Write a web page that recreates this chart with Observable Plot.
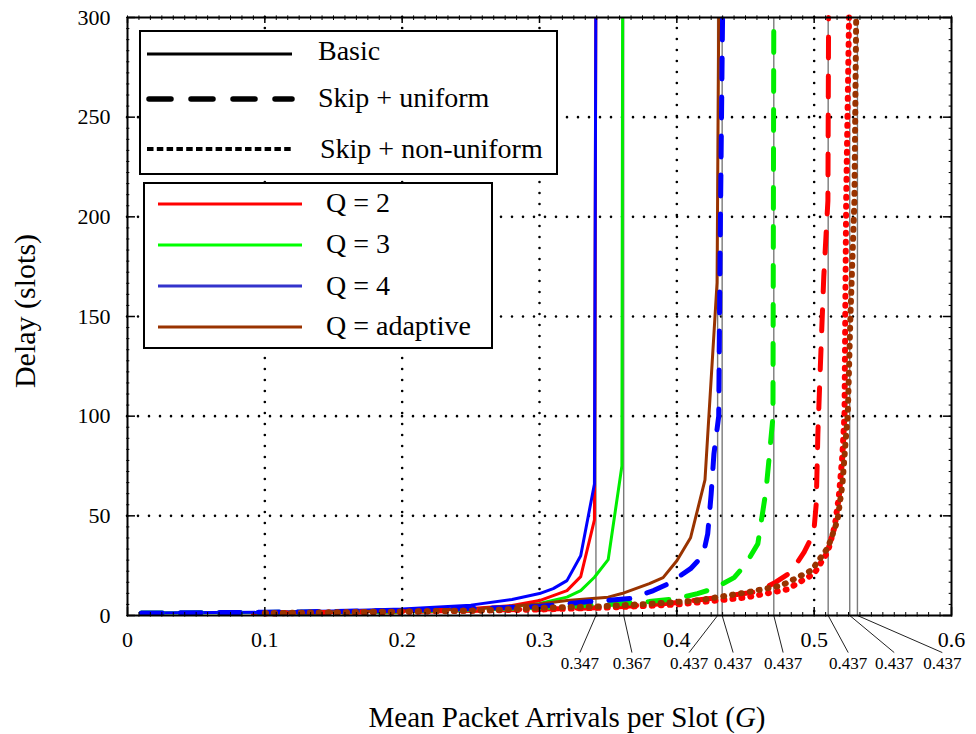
<!DOCTYPE html>
<html><head><meta charset="utf-8">
<script src="https://cdn.jsdelivr.net/npm/d3@7"></script>
<script src="https://cdn.jsdelivr.net/npm/@observablehq/plot@0.6"></script>
<style>
body{margin:0;background:#fff;}
#chart{width:976px;height:734px;}
svg{font-family:"Liberation Serif",serif;}
.lt{font-family:"Liberation Serif",serif;text-anchor:start;}
</style></head><body><div id="chart"></div>
<script>
// ---- data ----
const basicQ2G = [0.09,0.15,0.2,0.25,0.28,0.30,0.31,0.32,0.33,0.34,0.341];
const basicQ2D = [1,1.5,2.2,3.5,5,7.5,10,12.5,19.5,48,300];
const basicQ3G = [0.01,0.1,0.2,0.25,0.28,0.30,0.32,0.33,0.34,0.35,0.36,0.3605];
const basicQ3D = [1.2,1.5,2.3,3.3,4.5,6,9.2,12.5,19.2,28,75,300];
const basicQ4G = [0.01,0.1,0.15,0.2,0.25,0.28,0.30,0.31,0.32,0.33,0.34,0.341];
const basicQ4D = [1.2,1.6,2.2,3.3,5.2,8,11,13.5,17.5,30,66,300];
const basicAdG = [0.1,0.2,0.25,0.3,0.32,0.35,0.36,0.38,0.39,0.40,0.41,0.4205,0.4293,0.4305];
const basicAdD = [1.5,2.3,3.2,5.8,7.5,9.2,11,16,19,27.5,39,68,167,300];
const uniQ2G = [0.1,0.2,0.3,0.35,0.4,0.432,0.444,0.459,0.472,0.483,0.4927,0.498,0.5,0.5015,0.5027,0.5045,0.507,0.51,0.5105];
const uniQ2D = [1.2,2,3.2,4,6.5,9.2,10.5,12,16.7,21.7,31.8,39,44,56,91,125,170,208,300];
const uniQ3G = [0.01,0.1,0.2,0.3,0.35,0.38,0.40,0.415,0.427,0.4417,0.4504,0.459,0.465,0.47,0.4706];
const uniQ3D = [1.2,1.5,2.2,4,5.5,7,8.5,11,13.5,19,26,36,63,99.5,300];
const uniQ4G = [0.01,0.1,0.2,0.3,0.337,0.357,0.366,0.383,0.394,0.41,0.419,0.4225,0.425,0.427,0.4305,0.4315,0.4333];
const uniQ4D = [1.2,1.6,2.5,4.5,7,8,8.5,12.5,16,23.5,30,41,61,81,100,183,300];
const nonQ2G = [0.1,0.2,0.3,0.35,0.4,0.45,0.48,0.5,0.51,0.515,0.518,0.5205,0.5221,0.5233,0.5254];
const nonQ2D = [1,1.8,3,4,5.5,9,13,21,32,45,60,80,101,208,300];
const nonAdG = [0.1,0.2,0.2573,0.306,0.342,0.379,0.415,0.4517,0.476,0.498,0.51,0.517,0.5206,0.5233,0.5245,0.5264,0.5293,0.5306];
const nonAdD = [1.2,2,2.5,4,4.5,5.8,7.5,11.7,15,22.6,34,47.7,66,91,101,150,208,300];

const asymG = [0.3411,0.3613,0.4297,0.4330,0.4706,0.5102,0.5259,0.5315];
const asymLabels = ["0.347","0.367","0.437","0.437","0.437","0.437","0.437","0.437"];
const asymLabelG = [0.3294,0.3673,0.4089,0.4410,0.4774,0.5248,0.5583,0.5933];

const xTicks = [0,0.1,0.2,0.3,0.4,0.5,0.6];
const xTickLabels = ["0","0.1","0.2","0.3","0.4","0.5","0.6"];
const yTicks = [0,50,100,150,200,250,300];
const yTickLabels = ["0","50","100","150","200","250","300"];
const gridX = [0.1,0.2,0.3,0.4,0.5];
const gridY = [50,100,150,200,250];

const schemeNames = ["Basic","Skip + uniform","Skip + non-uniform"];
const qNames = ["Q = 2","Q = 3","Q = 4","Q = adaptive"];
const qColors = ["#ff0000","#00ee00","#0000ff","#993300"];
const qLegendColors = ["#ff0000","#00ff00","#3333cc","#993300"];

// ---- series table ----
const series = [
  {scheme:0,q:1,G:basicQ3G,D:basicQ3D},
  {scheme:0,q:0,G:basicQ2G,D:basicQ2D},
  {scheme:0,q:2,G:basicQ4G,D:basicQ4D},
  {scheme:0,q:3,G:basicAdG,D:basicAdD},
  {scheme:1,q:0,G:uniQ2G,D:uniQ2D},
  {scheme:1,q:1,G:uniQ3G,D:uniQ3D},
  {scheme:1,q:2,G:uniQ4G,D:uniQ4D},
  {scheme:2,q:0,G:nonQ2G,D:nonQ2D},
  {scheme:2,q:3,G:nonAdG,D:nonAdD}
];
const styleFor = [
  {strokeWidth:3, strokeDasharray:null, strokeLinecap:"butt"},
  {strokeWidth:5, strokeDasharray:"21,18", strokeLinecap:"round"},
  {strokeWidth:6, strokeDasharray:"1,8", strokeLinecap:"round"}
];
const lineMarks = series.map(s => {
  const rows = s.G.map((g,i)=>({G:g, D:s.D[i]}));
  const st = styleFor[s.scheme];
  return Plot.line(rows, {x:"G", y:"D", stroke:qColors[s.q], strokeWidth:st.strokeWidth,
    strokeDasharray:st.strokeDasharray, strokeLinecap:st.strokeLinecap, strokeLinejoin:"round"});
});

const minorX = d3.range(0,73).map(i=>i*0.1/12);
const minorY = d3.range(0,55).map(i=>i*50/9);
const leaders = asymG.map((g,i)=>({g, lg:asymLabelG[i]}));

const plot = Plot.plot({
  width:976, height:734,
  marginLeft:127, marginRight:25, marginTop:17, marginBottom:119,
  style:{fontFamily:"Liberation Serif", background:"white", color:"black"},
  x:{domain:[0,0.6]},
  y:{domain:[0,300]},
  marks:[
    Plot.ruleX(gridX, {stroke:"#000", strokeWidth:2.6, strokeDasharray:"0,11", strokeLinecap:"round"}),
    Plot.ruleY(gridY, {stroke:"#000", strokeWidth:2.6, strokeDasharray:"0,11", strokeLinecap:"round"}),
    Plot.ruleX(asymG, {y1:0, y2:300, stroke:"#7a7a7a", strokeWidth:1.4}),
    Plot.link(leaders, {x1:"g", y1:0, x2:"lg", y2:-18.6, stroke:"#222", strokeWidth:1}),
    Plot.text(asymLabels, {x:(d,i)=>asymLabelG[i], y:-20.8, text:d=>d, lineAnchor:"top", fontSize:17, fill:"#000"}),
    ...lineMarks,
    Plot.frame({stroke:"#000", strokeWidth:2}),
    Plot.ruleX(xTicks, {y1:0, y2:4, stroke:"#000", strokeWidth:1.5}),
    Plot.ruleX(xTicks, {y1:300, y2:297, stroke:"#000", strokeWidth:1.5}),
    Plot.ruleX(minorX, {y1:-0.8, y2:1.5, stroke:"#000", strokeWidth:1}),
    Plot.ruleX(minorX, {y1:300.8, y2:298.5, stroke:"#000", strokeWidth:1}),
    Plot.ruleY(yTicks, {x1:0, x2:0.0058, stroke:"#000", strokeWidth:1.5}),
    Plot.ruleY(yTicks, {x1:0.6, x2:0.5942, stroke:"#000", strokeWidth:1.5}),
    Plot.ruleY(minorY, {x1:-0.0006, x2:0.0017, stroke:"#000", strokeWidth:1}),
    Plot.ruleY(minorY, {x1:0.6006, x2:0.5983, stroke:"#000", strokeWidth:1}),
    Plot.axisX({ticks:xTicks, tickFormat:(d,i)=>xTickLabels[i], tickSize:0, tickPadding:16, fontSize:22, label:null}),
    Plot.axisY({ticks:yTicks, tickFormat:(d,i)=>yTickLabels[i], tickSize:0, tickPadding:17, fontSize:22, label:null})
  ]
});
document.getElementById("chart").appendChild(plot);

// ---- legends & axis titles ----
const svg = d3.select(plot);
const g = svg.append("g").attr("fill","#000");
const txt = (sel) => sel.attr("class","lt").style("font-family","'Liberation Serif', serif").style("text-anchor","start").style("white-space","pre");
g.append("rect").attr("x",140).attr("y",31).attr("width",417).attr("height",143)
  .attr("fill","white").attr("stroke","black").attr("stroke-width",2);
const schemeLegend = [
  {y:54, ty:60, tx:318, w:3.2, dash:null, cap:"butt"},
  {y:99, ty:107, tx:318, w:5.5, dash:"22,20", cap:"round"},
  {y:149, ty:158, tx:320, w:4, dash:"6.5,3.3", cap:"butt"}
];
schemeLegend.forEach((s,i)=>{
  g.append("line").attr("x1", i===1?149:147).attr("x2",292).attr("y1",s.y).attr("y2",s.y)
    .attr("stroke","#000").attr("stroke-width",s.w).attr("stroke-dasharray",s.dash).attr("stroke-linecap",s.cap);
  txt(g.append("text")).attr("x",s.tx).attr("y",s.ty).style("font-size","28px").text(schemeNames[i]);
});
g.append("rect").attr("x",144).attr("y",183).attr("width",348).attr("height",165)
  .attr("fill","white").attr("stroke","black").attr("stroke-width",2);
const qLineY = [204,245,286,327];
const qTextY = [212,253,295,335];
qNames.forEach((n,i)=>{
  g.append("line").attr("x1",158).attr("x2",302).attr("y1",qLineY[i]).attr("y2",qLineY[i])
    .attr("stroke",qLegendColors[i]).attr("stroke-width",3);
  txt(g.append("text")).attr("x",326).attr("y",qTextY[i]).style("font-size","28px").text(n);
});
const xl = txt(g.append("text")).attr("x",567).attr("y",727).style("font-size","29px").style("text-anchor","middle");
xl.append("tspan").text("Mean Packet Arrivals per Slot (");
xl.append("tspan").attr("font-style","italic").text("G");
xl.append("tspan").text(")");
txt(g.append("text")).attr("transform","translate(35,311) rotate(-90)").style("font-size","30px")
  .style("text-anchor","middle").text("Delay (slots)");
</script></body></html>
